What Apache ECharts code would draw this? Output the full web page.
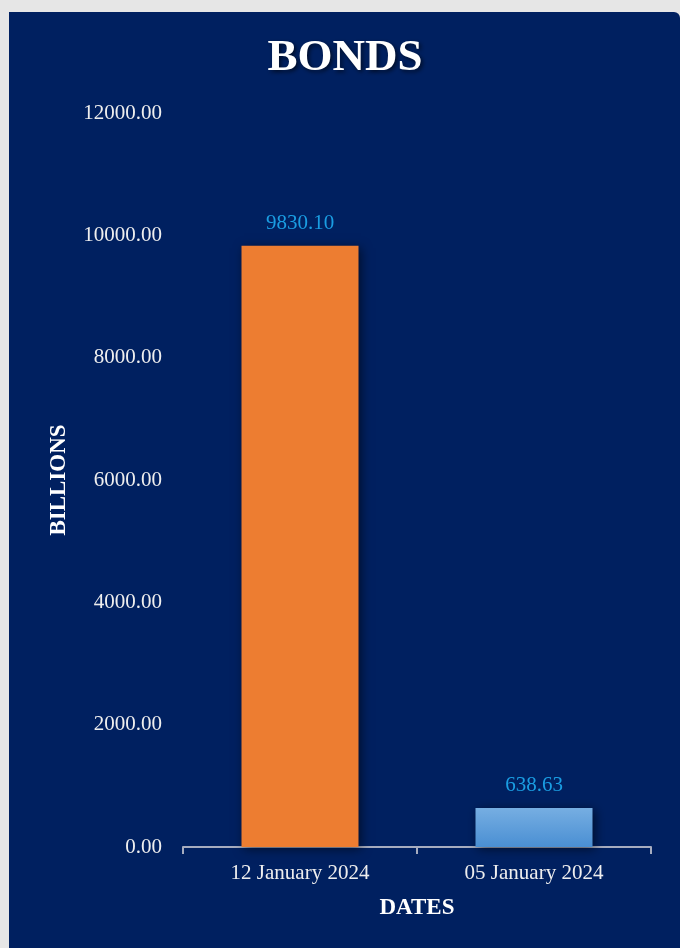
<!DOCTYPE html>
<html>
<head>
<meta charset="utf-8">
<script src="https://cdn.jsdelivr.net/npm/echarts@6/dist/echarts.min.js"></script>
<style>
html,body{margin:0;padding:0;background:#e6e6e6;}
#c{width:680px;height:948px;}
</style>
</head>
<body>
<div id="c"></div>
<script>
const categories = ['12 January 2024', '05 January 2024'];
const values = [9830.10, 638.63];
const yTicks = { min: 0, max: 12000, interval: 2000 };

const FONT = '"Liberation Serif", "DejaVu Serif", serif';
const chart = echarts.init(document.getElementById('c'));
chart.setOption({
  backgroundColor: '#e6e6e6',
  animation: false,
  graphic: [
    { type: 'rect', z: -10, shape: { x: 9, y: 12, width: 671, height: 936, r: [0, 6, 0, 0] }, style: { fill: '#002060' } },
    { type: 'text', z: 10, x: 345, y: 58, style: {
      text: 'BONDS', fill: '#ffffff', font: 'bold 45px ' + FONT, align: 'center', verticalAlign: 'middle',
      textShadowColor: 'rgba(0,0,0,0.6)', textShadowBlur: 4, textShadowOffsetX: 2, textShadowOffsetY: 2 } }
  ],
  grid: { left: 183, right: 29, top: 113, bottom: 101 },
  xAxis: {
    type: 'category',
    data: categories,
    name: 'DATES',
    nameLocation: 'middle',
    nameGap: 50,
    nameTextStyle: { color: '#ffffff', fontFamily: FONT, fontWeight: 'bold', fontSize: 23 },
    axisLine: { lineStyle: { color: '#a6acbf', width: 2 } },
    axisTick: { show: true, length: 7, lineStyle: { color: '#a6acbf', width: 2 } },
    axisLabel: { color: '#eeeeee', fontFamily: FONT, fontSize: 21, margin: 16 }
  },
  yAxis: {
    type: 'value',
    min: yTicks.min, max: yTicks.max, interval: yTicks.interval,
    name: 'BILLIONS',
    nameLocation: 'middle',
    nameGap: 112,
    nameTextStyle: { color: '#ffffff', fontFamily: FONT, fontWeight: 'bold', fontSize: 23 },
    axisLine: { show: false },
    axisTick: { show: false },
    splitLine: { show: false },
    axisLabel: { color: '#eeeeee', fontFamily: FONT, fontSize: 21, margin: 21, formatter: v => v.toFixed(2) }
  },
  series: [{
    type: 'bar',
    barWidth: '50%',
    data: values.map((v, i) => ({
      value: v,
      itemStyle: i === 0
        ? { color: '#ed7d31' }
        : { color: new echarts.graphic.LinearGradient(0, 0, 0, 1, [
            { offset: 0, color: '#76aee2' }, { offset: 1, color: '#4a8fd3' }]) }
    })),
    itemStyle: { shadowColor: 'rgba(0,0,0,0.55)', shadowBlur: 10, shadowOffsetX: 2, shadowOffsetY: 2 },
    label: {
      show: true, position: 'top', distance: 12,
      color: '#1a9de2', fontFamily: FONT, fontSize: 21,
      formatter: p => p.value.toFixed(2)
    }
  }]
});
</script>
</body>
</html>
